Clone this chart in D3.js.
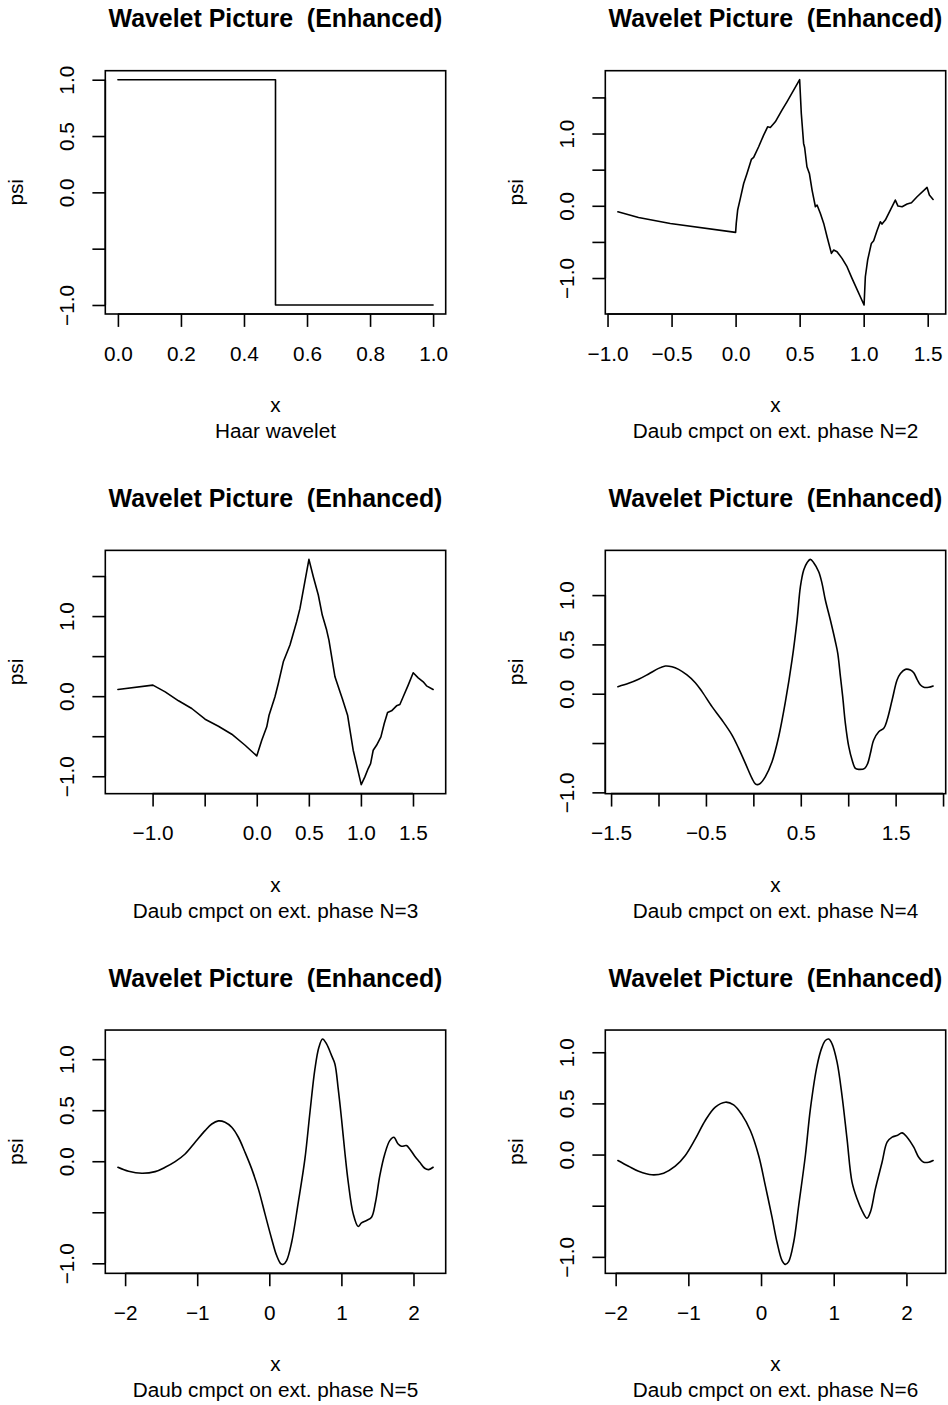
<!DOCTYPE html>
<html><head><meta charset="utf-8">
<script src="https://cdn.jsdelivr.net/npm/d3@7"></script>
<style>body{margin:0;background:#fff}svg{display:block}text{white-space:pre}</style>
</head><body>
<svg id="chart" width="948" height="1405"></svg>
<script>
// ---------- data ----------
const mainTitle = "Wavelet Picture  (Enhanced)";
const xLabel = "x";
const yLabel = "psi";
const subTitles = ["Haar wavelet", "Daub cmpct on ext. phase N=2", "Daub cmpct on ext. phase N=3",
  "Daub cmpct on ext. phase N=4", "Daub cmpct on ext. phase N=5", "Daub cmpct on ext. phase N=6"];

const haarX = [0, 0.5, 0.5, 1];
const haarY = [1, 1, -1, -1];

const n2X = [-0.919,-0.758,-0.510,0.000,0.005,0.016,0.037,0.063,0.089,0.123,0.141,0.180,0.219,0.250,0.271,0.310,0.362,0.401,0.500,0.513,0.531,0.539,0.557,0.576,0.597,0.623,0.636,0.662,0.688,0.714,0.748,0.766,0.792,0.831,0.870,0.909,1.003,1.013,1.031,1.060,1.078,1.104,1.130,1.143,1.169,1.208,1.247,1.268,1.300,1.339,1.373,1.417,1.495,1.513,1.542];
const n2Y = [-0.083,-0.161,-0.244,-0.368,-0.244,-0.059,0.102,0.309,0.448,0.641,0.669,0.817,0.978,1.093,1.084,1.162,1.324,1.439,1.745,1.278,0.863,0.807,0.540,0.448,0.217,-0.013,0.010,-0.106,-0.244,-0.428,-0.659,-0.613,-0.636,-0.728,-0.843,-1.005,-1.373,-0.982,-0.751,-0.521,-0.484,-0.345,-0.221,-0.253,-0.198,-0.059,0.079,-0.004,-0.013,0.024,0.042,0.125,0.254,0.148,0.088];

const n3X = [-1.333,-0.997,-0.879,-0.751,-0.624,-0.496,-0.368,-0.240,-0.112,0.000,0.048,0.096,0.118,0.175,0.207,0.255,0.319,0.383,0.415,0.501,0.543,0.591,0.629,0.671,0.693,0.751,0.799,0.821,0.872,0.895,0.926,1.003,1.038,1.070,1.093,1.118,1.150,1.192,1.224,1.256,1.294,1.342,1.374,1.406,1.454,1.502,1.550,1.598,1.630,1.693];
const n3Y = [0.083,0.138,0.054,-0.058,-0.154,-0.288,-0.375,-0.475,-0.613,-0.746,-0.550,-0.383,-0.238,-0.008,0.158,0.429,0.638,0.929,1.096,1.708,1.492,1.263,1.013,0.825,0.700,0.242,0.054,-0.029,-0.238,-0.425,-0.675,-1.105,-1.008,-0.904,-0.842,-0.675,-0.613,-0.508,-0.342,-0.204,-0.183,-0.121,-0.104,-0.008,0.138,0.292,0.229,0.179,0.129,0.083];

const n4X = [-1.428,-1.315,-1.210,-1.104,-0.999,-0.928,-0.858,-0.788,-0.700,-0.612,-0.541,-0.436,-0.331,-0.225,-0.155,-0.084,-0.014,0.021,0.046,0.074,0.127,0.197,0.267,0.338,0.408,0.461,0.496,0.531,0.566,0.601,0.636,0.689,0.724,0.759,0.812,0.865,0.890,0.918,0.942,0.970,1.006,1.041,1.076,1.111,1.174,1.206,1.234,1.269,1.322,1.375,1.410,1.463,1.515,1.551,1.603,1.656,1.691,1.726,1.762,1.797,1.850,1.895];
const n4Y = [0.071,0.105,0.146,0.200,0.257,0.281,0.274,0.247,0.190,0.112,0.021,-0.131,-0.267,-0.419,-0.554,-0.706,-0.858,-0.915,-0.922,-0.909,-0.841,-0.689,-0.436,-0.081,0.342,0.747,1.085,1.254,1.328,1.362,1.328,1.237,1.119,0.950,0.747,0.527,0.409,0.173,-0.030,-0.300,-0.537,-0.672,-0.757,-0.767,-0.757,-0.706,-0.604,-0.469,-0.385,-0.351,-0.267,-0.064,0.139,0.206,0.247,0.240,0.213,0.146,0.088,0.065,0.065,0.078];

const n5X = [-2.100,-1.952,-1.768,-1.583,-1.445,-1.306,-1.168,-1.029,-0.891,-0.798,-0.706,-0.614,-0.521,-0.429,-0.337,-0.244,-0.152,-0.060,0.033,0.102,0.162,0.194,0.240,0.310,0.402,0.494,0.564,0.633,0.688,0.739,0.794,0.864,0.910,0.956,1.002,1.048,1.095,1.164,1.233,1.279,1.348,1.418,1.473,1.533,1.602,1.671,1.727,1.787,1.833,1.902,1.948,2.018,2.087,2.156,2.212,2.272];
const n5Y = [-0.059,-0.098,-0.118,-0.102,-0.059,-0.004,0.071,0.186,0.300,0.365,0.395,0.382,0.333,0.235,0.088,-0.075,-0.271,-0.516,-0.761,-0.924,-1.006,-1.010,-0.973,-0.794,-0.402,0.023,0.480,0.904,1.116,1.197,1.149,1.035,0.953,0.708,0.414,0.088,-0.206,-0.516,-0.640,-0.604,-0.581,-0.549,-0.402,-0.141,0.071,0.202,0.235,0.169,0.147,0.153,0.120,0.049,-0.010,-0.069,-0.082,-0.059];

const n6X = [-1.969,-1.822,-1.684,-1.501,-1.340,-1.180,-1.042,-0.904,-0.767,-0.629,-0.491,-0.377,-0.262,-0.147,-0.033,0.059,0.151,0.220,0.289,0.334,0.380,0.449,0.518,0.610,0.679,0.771,0.839,0.885,0.931,0.977,1.046,1.114,1.183,1.252,1.321,1.389,1.458,1.504,1.573,1.665,1.734,1.803,1.871,1.940,2.009,2.101,2.169,2.238,2.307,2.367];
const n6Y = [-0.058,-0.114,-0.163,-0.198,-0.182,-0.114,-0.009,0.153,0.333,0.463,0.512,0.486,0.388,0.235,-0.009,-0.303,-0.612,-0.857,-1.036,-1.073,-1.046,-0.857,-0.498,-0.009,0.447,0.870,1.050,1.115,1.129,1.082,0.903,0.577,0.153,-0.270,-0.433,-0.547,-0.622,-0.563,-0.335,-0.075,0.121,0.170,0.186,0.212,0.170,0.072,-0.026,-0.075,-0.075,-0.058];

const xTicks = [[0,0.2,0.4,0.6,0.8,1.0],[-1,-0.5,0,0.5,1,1.5],[-1,-0.5,0,0.5,1,1.5],[-1.5,-1,-0.5,0,0.5,1,1.5,2],[-2,-1,0,1,2],[-2,-1,0,1,2]];
const xTickLabels = [["0.0","0.2","0.4","0.6","0.8","1.0"],["\u22121.0","\u22120.5","0.0","0.5","1.0","1.5"],["\u22121.0","","0.0","0.5","1.0","1.5"],["\u22121.5","","\u22120.5","","0.5","","1.5",""],["\u22122","\u22121","0","1","2"],["\u22122","\u22121","0","1","2"]];
const yTicks = [[-1,-0.5,0,0.5,1],[-1,-0.5,0,0.5,1,1.5],[-1,-0.5,0,0.5,1,1.5],[-1,-0.5,0,0.5,1],[-1,-0.5,0,0.5,1],[-1,-0.5,0,0.5,1]];
const yTickLabels = [["\u22121.0","","0.0","0.5","1.0"],["\u22121.0","","0.0","","1.0",""],["\u22121.0","","0.0","","1.0",""],["\u22121.0","","0.0","0.5","1.0"],["\u22121.0","","0.0","0.5","1.0"],["\u22121.0","","0.0","0.5","1.0"]];

const seriesX = [haarX, n2X, n3X, n4X, n5X, n6X];
const seriesY = [haarY, n2Y, n3Y, n4Y, n5Y, n6Y];
const smooth = [false, false, false, true, true, true];

// ---------- layout ----------
const FONT = "'Liberation Sans', Arial, Helvetica, sans-serif";
const colW = 500, rowH = 479.67;
const boxL = 105.3, boxT = 70.7, boxW = 340.4, boxH = 243.3;
const tickLen = 12.9, lw = 1.6;

const svg = d3.select("#chart");
svg.append("rect").attr("width", 948).attr("height", 1405).attr("fill", "#fff");

seriesX.forEach((xs, i) => {
  const ys = seriesY[i];
  const col = i % 2, row = Math.floor(i / 2);
  const L = col * colW + boxL, T = row * rowH + boxT;
  const g = svg.append("g");

  const xe = d3.extent(xs), ye = d3.extent(ys);
  const px = (xe[1] - xe[0]) * 0.04, py = (ye[1] - ye[0]) * 0.04;
  const x = d3.scaleLinear().domain([xe[0] - px, xe[1] + px]).range([L, L + boxW]);
  const y = d3.scaleLinear().domain([ye[0] - py, ye[1] + py]).range([T + boxH, T]);

  const pts = d3.zip(xs, ys);
  g.append("path").datum(pts)
    .attr("d", d3.line().x(d => x(d[0])).y(d => y(d[1]))
      .curve(smooth[i] ? d3.curveCatmullRom.alpha(0.5) : d3.curveLinear))
    .attr("fill", "none").attr("stroke", "#000").attr("stroke-width", 1.6)
    .attr("stroke-linejoin", "round").attr("stroke-linecap", "round");

  g.append("rect").attr("x", L).attr("y", T).attr("width", boxW).attr("height", boxH)
    .attr("fill", "none").attr("stroke", "#000").attr("stroke-width", lw);

  // x axis
  const xt = xTicks[i], xl = xTickLabels[i];
  const xa = g.append("g").attr("transform", `translate(0,${T + boxH})`)
    .call(d3.axisBottom(x).tickValues(xt).tickSize(tickLen).tickFormat((d, j) => xl[j]));
  xa.select(".domain").remove();
  xa.selectAll("line").attr("stroke", "#000").attr("stroke-width", lw);
  xa.selectAll("text").attr("y", 46.7).attr("dy", null)
    .attr("font-family", FONT).attr("font-size", 20.75).attr("fill", "#000");
  xa.attr("font-family", FONT).attr("font-size", 20.75);
  g.append("line").attr("x1", x(xt[0])).attr("x2", x(xt[xt.length - 1]))
    .attr("y1", T + boxH).attr("y2", T + boxH).attr("stroke", "#000").attr("stroke-width", lw);

  // y axis
  const yt = yTicks[i], yl = yTickLabels[i];
  const ya = g.append("g").attr("transform", `translate(${L},0)`)
    .call(d3.axisLeft(y).tickValues(yt).tickSize(tickLen).tickFormat((d, j) => yl[j]));
  ya.select(".domain").remove();
  ya.selectAll("line").attr("stroke", "#000").attr("stroke-width", lw);
  ya.selectAll("text").attr("x", 0).attr("y", -31).attr("dy", null)
    .attr("transform", "rotate(-90)").attr("text-anchor", "middle")
    .attr("font-family", FONT).attr("font-size", 20.75).attr("fill", "#000");
  ya.attr("font-family", FONT).attr("font-size", 20.75);
  g.append("line").attr("x1", L).attr("x2", L)
    .attr("y1", y(yt[0])).attr("y2", y(yt[yt.length - 1])).attr("stroke", "#000").attr("stroke-width", lw);

  const cx = L + boxW / 2;
  g.append("text").attr("x", cx).attr("y", T - 43.5).attr("text-anchor", "middle")
    .attr("xml:space", "preserve").style("white-space", "pre")
    .attr("font-family", FONT).attr("font-size", 24.9).attr("font-weight", "bold").text(mainTitle);
  g.append("text").attr("x", cx).attr("y", T + boxH + 98).attr("text-anchor", "middle")
    .attr("font-family", FONT).attr("font-size", 20.75).text(xLabel);
  g.append("text").attr("x", cx).attr("y", T + boxH + 124).attr("text-anchor", "middle")
    .attr("font-family", FONT).attr("font-size", 20.75).text(subTitles[i]);
  g.append("text").attr("transform", `translate(${L - 82},${T + boxH / 2}) rotate(-90)`)
    .attr("text-anchor", "middle")
    .attr("font-family", FONT).attr("font-size", 20.75).text(yLabel);
});
</script>
</body></html>
